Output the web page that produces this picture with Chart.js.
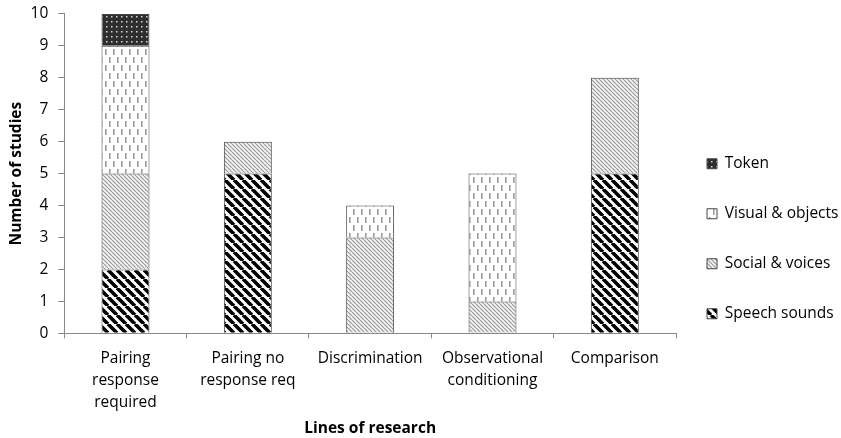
<!DOCTYPE html>
<html lang="en">
<head>
    <meta charset="UTF-8">
    <title>Lines of research</title>
    <script src="https://cdn.jsdelivr.net/npm/chart.js"></script>
    <style>
        body { margin: 0; background: #fff; }
        #wrap { width: 841px; height: 438px; }
    </style>
</head>
<body>
    <div id="wrap"><canvas id="chart"></canvas></div>

    <script>
        // categories and series (number of studies)
        var categories = [
            ['Pairing', 'response', 'required'],
            ['Pairing no', 'response req'],
            'Discrimination',
            ['Observational', 'conditioning'],
            'Comparison'
        ];
        var speechSounds = [2, 5, 0, 0, 5];
        var socialVoices = [3, 1, 3, 1, 3];
        var visualObjects = [4, 0, 1, 4, 0];
        var token = [1, 0, 0, 0, 0];
        var yTicks = [0, 1, 2, 3, 4, 5, 6, 7, 8, 9, 10];

        var FONT = '"Open Sans", sans-serif';
        var FS = 15.5;

        // --- fill patterns ---
        function tile(w, h, draw) {
            var c = document.createElement('canvas');
            c.width = w; c.height = h;
            var g = c.getContext('2d');
            draw(g, w, h);
            return g.createPattern(c, 'repeat');
        }
        function diag(color, bg, size, lw) {
            return tile(size, size, function (g, s) {
                g.fillStyle = bg; g.fillRect(0, 0, s, s);
                g.strokeStyle = color; g.lineWidth = lw;
                g.beginPath();
                for (var k = -1; k <= 1; k++) {
                    g.moveTo(k * s, 0);
                    g.lineTo(k * s + s, s);
                }
                g.stroke();
            });
        }
        var pSpeech = diag('#000', '#fff', 9, 3.6);
        var pSocial = diag('#9a9a9a', '#f2f2f2', 4, 1.1);
        var pVisual = tile(8, 16, function (g) {
            g.fillStyle = '#fff'; g.fillRect(0, 0, 8, 16);
            g.fillStyle = '#9a9a9a';
            g.fillRect(1, 1, 1.6, 6);
            g.fillRect(5, 9, 1.6, 6);
        });
        var pToken = tile(5, 5, function (g) {
            g.fillStyle = '#2e2e2e'; g.fillRect(0, 0, 5, 5);
            g.fillStyle = '#d8d8d8';
            g.fillRect(1, 1, 1.5, 1.5);
        });

        function ds(label, data, fill) {
            return {
                label: label,
                data: data,
                backgroundColor: fill,
                borderColor: '#444',
                borderWidth: 1,
                categoryPercentage: 0.8,
                barPercentage: 0.49
            };
        }

        // legend sits a bit lower than centre in the original
        var legendShift = {
            id: 'legendShift',
            afterLayout: function (chart) {
                var lg = chart.legend;
                lg.top += 19.5;
                lg.bottom += 19.5;
            }
        };

        new Chart(document.getElementById('chart'), {
            type: 'bar',
            data: {
                labels: categories,
                datasets: [
                    ds('Speech sounds', speechSounds, pSpeech),
                    ds('Social & voices', socialVoices, pSocial),
                    ds('Visual & objects', visualObjects, pVisual),
                    ds('Token', token, pToken)
                ]
            },
            plugins: [legendShift],
            options: {
                responsive: true,
                maintainAspectRatio: false,
                animation: false,
                layout: { padding: { top: 4, right: 0, left: 7, bottom: 0 } },
                plugins: {
                    tooltip: { enabled: false },
                    legend: {
                        position: 'right',
                        align: 'center',
                        reverse: true,
                        maxWidth: 165,
                        labels: {
                            color: '#000',
                            font: { family: FONT, size: FS, lineHeight: '19px' },
                            boxWidth: 10,
                            boxHeight: 10,
                            padding: 31,
                            // array text so each row uses the font line height
                            generateLabels: function (chart) {
                                var items = Chart.defaults.plugins.legend.labels.generateLabels(chart);
                                items.forEach(function (it) { it.text = [it.text]; });
                                return items;
                            }
                        }
                    }
                },
                scales: {
                    x: {
                        stacked: true,
                        grid: {
                            display: true,
                            drawOnChartArea: false,
                            drawTicks: true,
                            tickLength: 5,
                            color: '#888'
                        },
                        border: { color: '#888' },
                        ticks: {
                            color: '#000',
                            font: { family: FONT, size: FS, lineHeight: 1.42 },
                            maxRotation: 0,
                            autoSkip: false,
                            padding: 9
                        },
                        title: {
                            display: true,
                            text: 'Lines of research',
                            color: '#000',
                            font: { family: FONT, size: FS, weight: 'bold' },
                            padding: { top: -3, bottom: 0 }
                        }
                    },
                    y: {
                        stacked: true,
                        min: 0,
                        max: 10,
                        afterBuildTicks: function (axis) {
                            axis.ticks = yTicks.map(function (v) { return { value: v }; });
                        },
                        grid: {
                            display: true,
                            drawOnChartArea: false,
                            drawTicks: true,
                            tickLength: 6,
                            color: '#888'
                        },
                        border: { color: '#888' },
                        ticks: {
                            color: '#000',
                            font: { family: FONT, size: FS, lineHeight: 0.5 },
                            padding: 10
                        },
                        title: {
                            display: true,
                            text: 'Number of studies',
                            color: '#000',
                            font: { family: FONT, size: FS, weight: 'bold' },
                            padding: { top: 0, bottom: -5 }
                        }
                    }
                }
            }
        });
    </script>
</body>
</html>
